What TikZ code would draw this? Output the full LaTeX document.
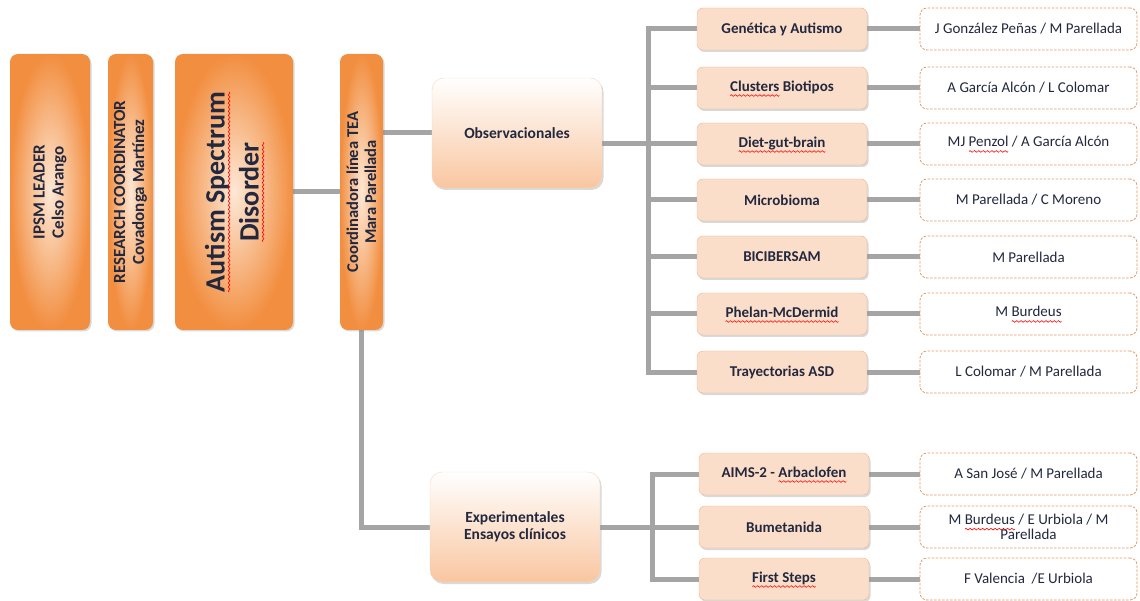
\documentclass[tikz,border=0pt]{standalone}
\usepackage{fontspec}
\setmainfont{Carlito}
\usepackage{xcolor}
\usepackage{tikz}
\usetikzlibrary{shadows,backgrounds}

\definecolor{ink}{RGB}{35,40,62}
\definecolor{orng}{RGB}{242,142,64}
\definecolor{pale}{RGB}{253,232,214}
\definecolor{peach}{RGB}{251,222,202}
\definecolor{peachline}{RGB}{236,182,144}
\definecolor{obsbot}{RGB}{249,198,160}
\definecolor{obsline}{RGB}{244,214,194}
\definecolor{linkgray}{RGB}{165,165,165}
\definecolor{dashline}{RGB}{226,152,98}

% red spelling wave under a word
\newsavebox\wavebox
\newsavebox\spellbox
\sbox\wavebox{\special{pdf:literal q 1 0 0 RG 0.6 w 0 0 m 0.55 1.1 1.45 1.1 2 0 c 2.55 -1.1 3.45 -1.1 4 0 c S Q}\kern4bp}
\newcommand\spell[1]{\sbox\spellbox{#1}\rlap{\usebox\spellbox}%
  \lower4.5pt\hbox to \wd\spellbox{\xleaders\copy\wavebox\hfil}}

\tikzset{
  lead/.style={rotate=90,rounded corners=8pt,inner color=pale,outer color=orng,
    text=ink,align=center,inner sep=2pt,minimum width=276pt,
    font=\bfseries\fontsize{17}{19}\selectfont,
    drop shadow={shadow xshift=1.5pt,shadow yshift=-1.5pt,opacity=.3}},
  line/.style={rounded corners=12pt,draw=obsline,top color=white,bottom color=obsbot,
    text=ink,align=center,minimum width=170pt,minimum height=110pt,
    font=\bfseries\fontsize{15.5}{17}\selectfont,
    drop shadow={shadow xshift=1.5pt,shadow yshift=-2pt,opacity=.3}},
  topic/.style={rounded corners=6pt,fill=peach,draw=peachline,text=ink,
    minimum width=170pt,minimum height=42pt,
    font=\bfseries\fontsize{15}{17}\selectfont,
    drop shadow={shadow xshift=1.5pt,shadow yshift=-2pt,opacity=.3}},
  who/.style={rounded corners=7pt,fill=white,draw=dashline,line width=.8pt,
    dash pattern=on 2.5pt off 1.5pt,
    text=ink,align=center,minimum width=217pt,minimum height=42pt,
    font=\fontsize{15}{15}\selectfont},
  link/.style={draw=linkgray,line width=5pt}
}

\begin{document}
\begin{tikzpicture}[x=1pt,y=-1pt]
\useasboundingbox (0,0) rectangle (1140,601);

% left column
\node[lead,minimum height=80pt] (ipsm) at (50,192) {IPSM LEADER\\Celso Arango};
\node[lead,minimum height=45pt] (rc) at (130.5,192) {RESEARCH COORDINATOR\\Covadonga Martínez};
\node[lead,minimum height=118pt,font=\bfseries\fontsize{28}{34}\selectfont] (asd) at (234,192)
  {\spell{Autism Spectrum}\\\spell{Disorder}};
\node[lead,minimum height=43pt,font=\bfseries\fontsize{16.5}{18}\selectfont] (coord) at (361.5,192)
  {Coordinadora línea TEA\\Mara Parellada};

% two lines
\node[line] (obs) at (517,133) {Observacionales};
\node[line] (exp) at (515,527) {Experimentales\\Ensayos clínicos};

% topics
\node[topic] (gen) at (782,29) {Genética y Autismo};
\node[topic] (clu) at (782,88) {\spell{Clusters} Biotipos};
\node[topic] (diet) at (782,144) {\spell{Diet-gut-brain}};
\node[topic] (mic) at (782,200) {Microbioma};
\node[topic] (bic) at (782,257) {BICIBERSAM};
\node[topic] (phe) at (782,314) {\spell{Phelan-McDermid}};
\node[topic] (tra) at (782,372) {Trayectorias ASD};
\node[topic] (aims) at (784,474) {AIMS-2 - \spell{Arbaclofen}};
\node[topic] (bum) at (784,527) {Bumetanida};
\node[topic] (fst) at (784,579) {\spell{First Steps}};

% people
\node[who] (gen-who) at (1028.5,29) {J González Peñas / M Parellada};
\node[who] (clu-who) at (1028.5,88) {A García Alcón / L Colomar};
\node[who] (diet-who) at (1028.5,144) {MJ \spell{Penzol} / A García Alcón};
\node[who] (mic-who) at (1028.5,200) {M Parellada / C Moreno};
\node[who] (bic-who) at (1028.5,257) {M Parellada};
\node[who] (phe-who) at (1028.5,314) {M \spell{Burdeus}};
\node[who] (tra-who) at (1028.5,372) {L Colomar / M Parellada};
\node[who] (aims-who) at (1028.5,474) {A San José / M Parellada};
\node[who] (bum-who) at (1028.5,527) {M \spell{Burdeus} / E Urbiola / M\\Parellada};
\node[who] (fst-who) at (1028.5,579) {F Valencia \ /E Urbiola};

\begin{pgfonlayer}{background}
\draw[link] (asd.south) -- (coord.north);
\draw[link] (coord.south |- obs) -- (obs.west);
\draw[link] (coord.west) |- (exp.west);

\coordinate (obus) at (648,0);
\draw[link] (gen.west) -| (obus |- tra) -- (tra.west);
\foreach \n in {clu,diet,mic,bic,phe}
  \draw[link] (obus |- \n) -- (\n.west);
\draw[link] (obs.east |- diet) -- (obus |- diet);

\coordinate (ebus) at (652,0);
\draw[link] (aims.west) -| (ebus |- fst) -- (fst.west);
\draw[link] (exp.east |- bum) -- (bum.west);

\foreach \n in {gen,clu,diet,mic,bic,phe,tra,aims,bum,fst}
  \draw[link] (\n.east) -- (\n-who.west);
\end{pgfonlayer}
\end{tikzpicture}
\end{document}
